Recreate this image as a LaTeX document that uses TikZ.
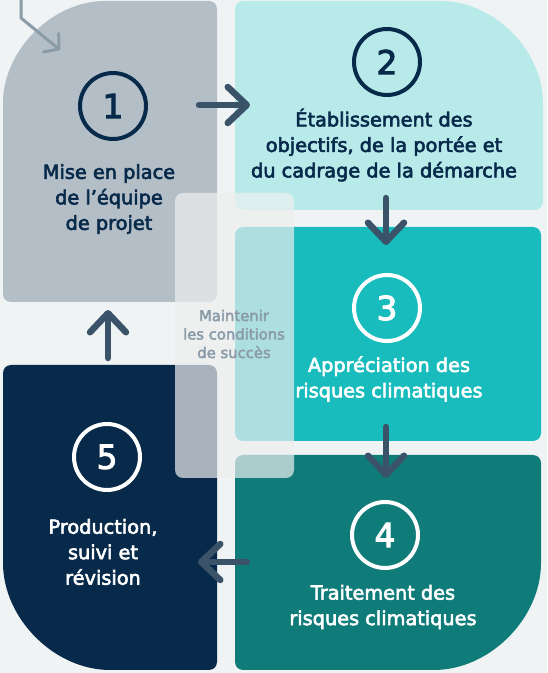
\documentclass[tikz,border=0pt]{standalone}
\usepackage{fontspec}
\setmainfont{DejaVu Sans}[BoldFont={DejaVu Sans},BoldFeatures={FakeBold=3}]
\usetikzlibrary{arrows.meta}
\definecolor{bgcol}{HTML}{F0F3F4}
\definecolor{stepgrey}{HTML}{B4BEC7}
\definecolor{steplight}{HTML}{B9EAEA}
\definecolor{stepteal}{HTML}{18BCBD}
\definecolor{stepdark}{HTML}{107C7A}
\definecolor{stepnavy}{HTML}{07294A}
\definecolor{arrowcol}{HTML}{3A5369}
\definecolor{softgrey}{HTML}{8B9CA9}
\definecolor{veil}{HTML}{EEEFEF}
\begin{document}
\begin{tikzpicture}[x=1pt,y=1pt,
    ring/.style={circle,draw=#1,text=#1,line width=4pt,minimum size=66pt,inner sep=0pt,
        font=\fontsize{33}{33}\selectfont\bfseries},
    label/.style={text=#1,align=center,font=\fontsize{19.3}{25.5}\selectfont\bfseries},
    flow/.style={arrowcol,line width=6.5pt,line cap=round,
        -{Straight Barb[length=19pt,width=36pt,round]}}]
    % background and margins
    \fill[bgcol] (0,0) rectangle (547,673);
    \useasboundingbox (0,0) rectangle (547,673);
    % the five steps
    \fill[stepgrey,rounded corners=8pt] (110,371) -- (3,371) -- (3,562)
        arc[start angle=180,end angle=90,radius=110] -- (217,672) -- (217,371) -- cycle;
    \fill[steplight,rounded corners=8pt] (380,463) -- (235,463) -- (235,672) -- (433,672)
        arc[start angle=90,end angle=0,radius=110] -- (543,463) -- cycle;
    \fill[stepteal,rounded corners=8pt] (235,232) rectangle (541,446);
    \fill[stepdark,rounded corners=8pt] (235,110) -- (235,218) -- (541,218) -- (541,118)
        arc[start angle=0,end angle=-90,radius=115] -- (235,3) -- cycle;
    \fill[stepnavy,rounded corners=8pt] (217,150) -- (217,308) -- (3,308) -- (3,118)
        arc[start angle=180,end angle=270,radius=115] -- (217,3) -- cycle;
    % middle veil
    \fill[veil,opacity=0.7,rounded corners=8pt] (175,195) rectangle (294,480);
    \node[text=softgrey,align=center,font=\fontsize{14.8}{18.5}\selectfont\bfseries] (succes) at (234,339)
        {Maintenir\\les conditions\\de succès};
    % numbers
    \node[ring=stepnavy] (n1) at (113,567) {1};
    \node[ring=stepnavy] (n2) at (387,611) {2};
    \node[ring=white] (n3) at (387,365) {3};
    \node[ring=white] (n4) at (385,138) {4};
    \node[ring=white] (n5) at (107,216) {5};
    % step texts
    \node[label=stepnavy] (t1) at (109,474) {Mise en place\\de l’équipe\\de projet};
    \node[label=stepnavy] (t2) at (384,528) {Établissement des\\objectifs, de la portée et\\du cadrage de la démarche};
    \node[label=white] (t3) at (389,294) {Appréciation des\\risques climatiques};
    \node[label=white] (t4) at (383,66) {Traitement des\\risques climatiques};
    \node[label=white] (t5) at (103,121) {Production,\\suivi et\\révision};
    % arrows between steps
    \coordinate (a1) at (199,568); \coordinate (a2) at (250,568);
    \coordinate (b1) at (386,475); \coordinate (b2) at (386,428);
    \coordinate (c1) at (386,246); \coordinate (c2) at (386,195);
    \coordinate (d1) at (247,111); \coordinate (d2) at (198,111);
    \coordinate (e1) at (108,315); \coordinate (e2) at (108,363);
    \foreach \s/\e in {a1/a2,b1/b2,c1/c2,d1/d2,e1/e2}
        \draw[flow] (\s) -- (\e);
    % entry arrow
    \coordinate (in0) at (21,674); \coordinate (in1) at (21,655); \coordinate (in2) at (60,623);
    \draw[softgrey,line width=3pt,line join=round,-{Straight Barb[length=10pt,width=24pt,round]}]
        (in0) -- (in1) -- (in2);
\end{tikzpicture}
\end{document}
